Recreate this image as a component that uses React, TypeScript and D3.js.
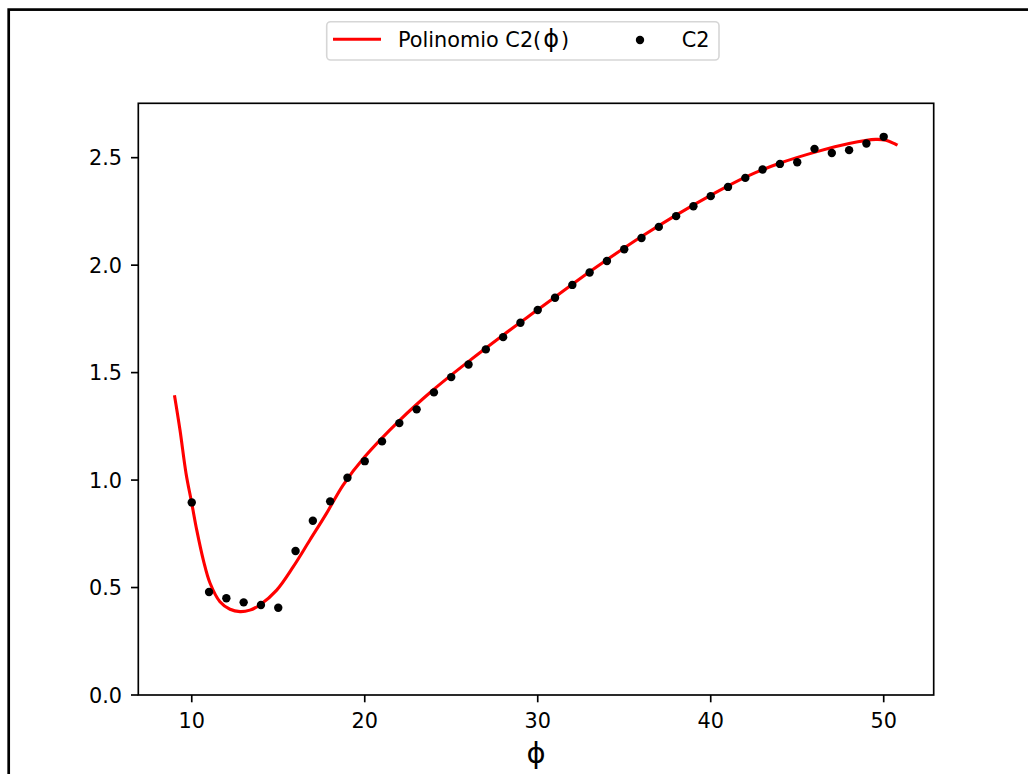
import React from "react";
import * as d3 from "d3";

// Measured C2 values at integer phi
const phiPoints = [10, 11, 12, 13, 14, 15, 16, 17, 18, 19, 20, 21, 22, 23, 24, 25, 26, 27, 28, 29, 30,
  31, 32, 33, 34, 35, 36, 37, 38, 39, 40, 41, 42, 43, 44, 45, 46, 47, 48, 49, 50];
const c2Values = [0.896, 0.479, 0.450, 0.431, 0.419, 0.406, 0.670, 0.811, 0.901, 1.011, 1.088,
  1.180, 1.265, 1.329, 1.408, 1.479, 1.538, 1.608, 1.665, 1.732, 1.791,
  1.848, 1.908, 1.966, 2.019, 2.074, 2.126, 2.178, 2.228, 2.274, 2.321,
  2.364, 2.406, 2.445, 2.471, 2.479, 2.541, 2.522, 2.535, 2.566, 2.597];

// Fitted polynomial C2(phi), sampled along phi
const polyPhi = [9.0, 9.32, 9.67, 10.0, 10.29, 10.67, 11.06, 11.63, 12.21, 12.79, 13.36, 13.94,
  14.91, 15.87, 16.83, 17.79, 18.75, 20.0, 22.03, 23.95, 25.97, 27.99, 30.11, 33.0, 33.96,
  35.98, 38.0, 40.02, 42.04, 44.06, 46.09, 48.0, 49.55, 50.13, 50.8];
const polyC2 = [1.395, 1.233, 1.031, 0.892, 0.767, 0.628, 0.52, 0.434, 0.399, 0.388, 0.395, 0.419,
  0.488, 0.597, 0.721, 0.845, 0.977, 1.108, 1.279, 1.419, 1.550, 1.674, 1.799, 1.969, 2.023,
  2.132, 2.233, 2.326, 2.411, 2.476, 2.527, 2.566, 2.585, 2.581, 2.558];

const xTicks = [10, 20, 30, 40, 50];
const yTicks = [0.0, 0.5, 1.0, 1.5, 2.0, 2.5];

const W = 1028;
const H = 774;
const plot = { left: 138.3, right: 933.7, top: 103.3, bottom: 695 };
const FONT = "DejaVu Sans, sans-serif";
const FS = 20.8;

export default function App() {
  const x = d3.scaleLinear().domain([6.91, 52.89]).range([plot.left, plot.right]);
  const y = d3.scaleLinear().domain([0, 2.753]).range([plot.bottom, plot.top]);

  const polyData = polyPhi.map((p, i) => [p, polyC2[i]] as [number, number]);
  const line = d3
    .line<[number, number]>()
    .x((d) => x(d[0]))
    .y((d) => y(d[1]))
    .curve(d3.curveCatmullRom.alpha(0.5));

  const axisColor = "#000";
  const sw = 1.67;
  const tickLen = 7.3;

  return (
    <svg
      width={W}
      height={H}
      style={{ position: "absolute", left: 0, top: 0, background: "#fff" }}
      fontFamily={FONT}
    >
      <rect x={0} y={0} width={W} height={H} fill="#fff" />
      {/* outer frame */}
      <rect x={8.7} y={9.6} width={W + 100} height={H + 100} fill="none" stroke="#000" strokeWidth={2.7} />

      <defs>
        <clipPath id="plotClip">
          <rect x={plot.left} y={plot.top} width={plot.right - plot.left} height={plot.bottom - plot.top} />
        </clipPath>
      </defs>

      {/* fitted curve */}
      <path
        d={line(polyData) ?? ""}
        fill="none"
        stroke="#ff0000"
        strokeWidth={3.1}
        clipPath="url(#plotClip)"
      />

      {/* measured points */}
      {phiPoints.map((p, i) => (
        <circle key={p} cx={x(p)} cy={y(c2Values[i])} r={4.2} fill="#000" />
      ))}

      {/* axes box */}
      <rect
        x={plot.left}
        y={plot.top}
        width={plot.right - plot.left}
        height={plot.bottom - plot.top}
        fill="none"
        stroke={axisColor}
        strokeWidth={sw}
      />

      {/* x ticks */}
      {xTicks.map((t) => (
        <g key={"x" + t}>
          <line x1={x(t)} x2={x(t)} y1={plot.bottom} y2={plot.bottom + tickLen} stroke={axisColor} strokeWidth={sw} />
          <text x={x(t)} y={727.5} textAnchor="middle" fontSize={FS} fill="#000">
            {t}
          </text>
        </g>
      ))}

      {/* y ticks */}
      {yTicks.map((t) => (
        <g key={"y" + t}>
          <line x1={plot.left - tickLen} x2={plot.left} y1={y(t)} y2={y(t)} stroke={axisColor} strokeWidth={sw} />
          <text x={122} y={y(t) + 7.6} textAnchor="end" fontSize={FS} fill="#000">
            {t.toFixed(1)}
          </text>
        </g>
      ))}

      {/* x label */}
      <text x={(plot.left + plot.right) / 2} y={763} textAnchor="middle" fontSize={29} fill="#000">
        ϕ
      </text>

      {/* legend */}
      <g>
        <rect x={326.7} y={21.7} width={392.3} height={38.3} rx={4} ry={4} fill="#fff" stroke="#d6d6d6" strokeWidth={1.6} />
        <line x1={333} x2={381} y1={39.3} y2={39.3} stroke="#ff0000" strokeWidth={3.1} />
        <text x={398} y={47} fontSize={FS} fill="#000">
          Polinomio C2(
          <tspan dx={2} fontSize={24}>ϕ</tspan>
          <tspan dx={2}>)</tspan>
        </text>
        <circle cx={640} cy={40} r={4.2} fill="#000" />
        <text x={681.7} y={47} fontSize={FS} fill="#000">
          C2
        </text>
      </g>
    </svg>
  );
}
